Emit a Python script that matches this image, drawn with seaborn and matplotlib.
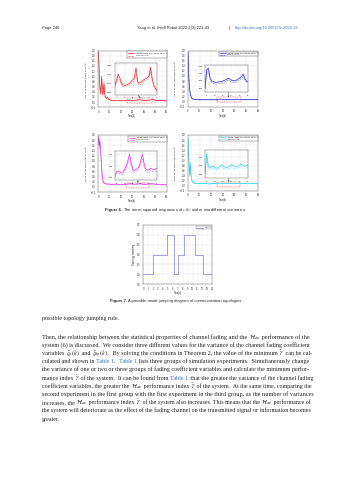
import re
import numpy as np
import matplotlib
matplotlib.use('Agg')
import matplotlib.pyplot as plt
from matplotlib.patches import Rectangle, ConnectionPatch
import seaborn as sns

sns.set_style('white')
plt.rcParams['font.family'] = ['Liberation Sans', 'DejaVu Sans']
plt.rcParams['mathtext.fontset'] = 'stix'

W, H = 353, 480

# ---- data for Figure 6 (norm-squared responses) ----
T = [0, 0.5, 1, 1.5, 2, 2.5, 3, 3.5, 4, 4.5, 5, 5.5, 6, 7, 8, 9, 10, 12, 14, 16, 18,
     20, 22, 24, 26, 28, 30, 32, 34, 36, 38, 40, 42, 44, 46, 48, 50, 52, 54, 56, 58, 60]

red_fading = [1.95, 1.60, 0.90, 0.55, 0.35, 0.60, 1.00, 0.55, 0.30, 0.45, 0.75, 0.40, 0.22, 0.15,
              0.20, 0.12, 0.09, 0.07, 0.06, 0.06, 0.07, 0.06, 0.06, 0.06, 0.07, 0.08, 0.07, 0.07,
              0.08, 0.10, 0.08, 0.07, 0.07, 0.08, 0.09, 0.12, 0.08, 0.06, 0.06, 0.06, 0.05, 0.05]
red_ideal = [1.90, 1.50, 0.80, 0.50, 0.30, 0.50, 0.90, 0.50, 0.26, 0.40, 0.65, 0.35, 0.20, 0.13,
             0.17, 0.10, 0.08, 0.06, 0.05, 0.05, 0.06, 0.05, 0.05, 0.05, 0.06, 0.07, 0.06, 0.06,
             0.07, 0.09, 0.07, 0.06, 0.06, 0.07, 0.08, 0.10, 0.07, 0.05, 0.05, 0.05, 0.04, 0.04]
blue_fading = [1.95, 1.20, 0.70, 0.45, 0.30, 0.20, 0.14, 0.12, 0.10, 0.09, 0.09, 0.08, 0.08, 0.08,
               0.07, 0.07, 0.07, 0.07, 0.07, 0.07, 0.07, 0.07, 0.07, 0.07, 0.08, 0.09, 0.08, 0.08,
               0.08, 0.08, 0.08, 0.08, 0.09, 0.08, 0.08, 0.08, 0.08, 0.08, 0.08, 0.08, 0.08, 0.08]
blue_ideal = [1.90, 1.10, 0.65, 0.40, 0.27, 0.18, 0.12, 0.10, 0.09, 0.08, 0.08, 0.07, 0.07, 0.07,
              0.06, 0.06, 0.06, 0.06, 0.06, 0.06, 0.06, 0.06, 0.06, 0.06, 0.07, 0.08, 0.07, 0.07,
              0.07, 0.07, 0.07, 0.07, 0.08, 0.07, 0.07, 0.07, 0.07, 0.07, 0.07, 0.07, 0.07, 0.07]
mag_fading = [1.70, 1.95, 1.60, 1.75, 1.40, 1.10, 0.70, 0.40, 0.25, 0.18, 0.15, 0.14, 0.13, 0.12,
              0.10, 0.12, 0.10, 0.09, 0.10, 0.11, 0.09, 0.10, 0.09, 0.10, 0.11, 0.12, 0.11, 0.10,
              0.11, 0.13, 0.11, 0.10, 0.10, 0.11, 0.12, 0.12, 0.10, 0.09, 0.09, 0.09, 0.08, 0.08]
mag_ideal = [1.60, 1.85, 1.50, 1.65, 1.30, 1.00, 0.62, 0.36, 0.22, 0.16, 0.13, 0.12, 0.11, 0.10,
             0.09, 0.10, 0.09, 0.08, 0.09, 0.10, 0.08, 0.09, 0.08, 0.09, 0.10, 0.10, 0.10, 0.09,
             0.10, 0.11, 0.10, 0.09, 0.09, 0.10, 0.10, 0.10, 0.09, 0.08, 0.08, 0.08, 0.07, 0.07]
cyan_fading = [1.85, 1.30, 0.80, 0.45, 0.90, 0.50, 0.25, 0.20, 0.18, 0.12, 0.14, 0.11, 0.10, 0.10,
               0.09, 0.09, 0.10, 0.09, 0.09, 0.09, 0.08, 0.09, 0.09, 0.09, 0.10, 0.11, 0.10, 0.10,
               0.10, 0.10, 0.09, 0.09, 0.10, 0.10, 0.10, 0.10, 0.09, 0.09, 0.09, 0.09, 0.09, 0.09]
cyan_ideal = [1.80, 1.20, 0.75, 0.40, 0.80, 0.45, 0.22, 0.18, 0.16, 0.11, 0.12, 0.10, 0.09, 0.09,
              0.08, 0.08, 0.09, 0.08, 0.08, 0.08, 0.07, 0.08, 0.08, 0.08, 0.09, 0.10, 0.09, 0.09,
              0.09, 0.09, 0.08, 0.08, 0.09, 0.09, 0.09, 0.09, 0.08, 0.08, 0.08, 0.08, 0.08, 0.08]

# zoomed windows of the insets
IT = [24, 25, 26, 27, 28, 29, 30, 31, 32, 33, 34, 35, 36, 37, 38, 39, 40, 41, 42, 43,
      44, 45, 46, 47, 48, 49, 50]
red_in1 = [0.070, 0.085, 0.100, 0.090, 0.075, 0.070, 0.068, 0.070, 0.072, 0.075, 0.080, 0.085,
           0.090, 0.118, 0.080, 0.075, 0.078, 0.082, 0.085, 0.088, 0.090, 0.095, 0.120, 0.090,
           0.070, 0.060, 0.055]
red_in2 = [0.065, 0.080, 0.092, 0.082, 0.070, 0.066, 0.064, 0.066, 0.068, 0.070, 0.074, 0.078,
           0.083, 0.100, 0.075, 0.070, 0.072, 0.076, 0.080, 0.083, 0.085, 0.090, 0.108, 0.085,
           0.066, 0.058, 0.052]
blue_in1 = [0.060, 0.110, 0.115, 0.090, 0.080, 0.078, 0.076, 0.076, 0.077, 0.078, 0.079, 0.080,
            0.082, 0.084, 0.087, 0.085, 0.082, 0.081, 0.080, 0.082, 0.085, 0.088, 0.092, 0.098,
            0.088, 0.080, 0.078]
blue_in2 = [0.058, 0.100, 0.108, 0.084, 0.075, 0.073, 0.071, 0.071, 0.072, 0.073, 0.074, 0.075,
            0.077, 0.080, 0.082, 0.080, 0.077, 0.076, 0.075, 0.077, 0.080, 0.083, 0.087, 0.090,
            0.083, 0.076, 0.074]
mag_in1 = [0.085, 0.090, 0.092, 0.090, 0.088, 0.090, 0.095, 0.100, 0.110, 0.120, 0.105, 0.095,
           0.092, 0.094, 0.096, 0.100, 0.110, 0.120, 0.105, 0.095, 0.093, 0.094, 0.096, 0.095,
           0.094, 0.095, 0.096]
mag_in2 = [0.082, 0.087, 0.089, 0.087, 0.085, 0.087, 0.091, 0.096, 0.104, 0.113, 0.100, 0.091,
           0.089, 0.090, 0.092, 0.096, 0.104, 0.112, 0.100, 0.091, 0.089, 0.090, 0.092, 0.091,
           0.090, 0.091, 0.092]
cyan_in1 = [0.080, 0.130, 0.100, 0.095, 0.098, 0.100, 0.096, 0.094, 0.096, 0.099, 0.102, 0.100,
            0.097, 0.095, 0.097, 0.100, 0.103, 0.100, 0.098, 0.097, 0.099, 0.102, 0.104, 0.101,
            0.099, 0.100, 0.101]
cyan_in2 = [0.078, 0.120, 0.094, 0.090, 0.093, 0.095, 0.091, 0.089, 0.091, 0.094, 0.097, 0.095,
            0.092, 0.090, 0.092, 0.095, 0.098, 0.095, 0.093, 0.092, 0.094, 0.097, 0.099, 0.096,
            0.094, 0.095, 0.096]

legend_labels = ['fading channel with probability $\\alpha$', 'ideal channel']

# ---- data for Figure 7 (mode jumping) ----
switch_times = [0, 2, 4.9, 6.3, 7.1, 8.3, 10.5, 12.2, 13.5, 14]
modes = [1, 2, 3, 1, 2, 3, 2, 1, 1, 1]

# ---- body text ----
header_left = 'Page 240'
header_mid = 'Yang et al. Intell Robot 2022;2(3):223-43'
header_link = 'http://dx.doi.org/10.20517/ir.2022.19'
cap6 = ('Figure 6.', ' The norm-squared responses of $z_i(k)$ under two different scenarios.')
cap7 = ('Figure 7.', ' A possible mode jumping diagram of communication topologies.')
HINF = '$\\mathcal{H}_\\infty$'
GAM = '$\\bar{\\gamma}$'
body_first = 'possible topology jumping rule.'
# [..] marks a blue cross-reference
body_lines = [
    'Then, the relationship between the statistical properties of channel fading and the ' + HINF + ' performance of the',
    'system (6) is discussed.  We consider three different values for the variance of the channel fading coefficient',
    'variables $\\xi_p(k)$ and $\\xi_{\\theta{p}}(k)$.  By solving the conditions in Theorem 2, the value of the minimum ' + GAM + ' can be cal-',
    'culated and shown in [Table 1].  [Table 1] lists three groups of simulation experiments.  Simultaneously change',
    'the variance of one or two or three groups of fading coefficient variables and calculate the minimum perfor-',
    'mance index ' + GAM + ' of the system.  It can be found from [Table 1] that the greater the variance of the channel fading',
    'coefficient variables, the greater the ' + HINF + ' performance index ' + GAM + ' of the system.  At the same time, comparing the',
    'second experiment in the first group with the first experiment in the third group, as the number of variances',
    'increases, the ' + HINF + ' performance index ' + GAM + ' of the system also increases. This means that the ' + HINF + ' performance of',
    'the system will deteriorate as the effect of the fading channel on the transmitted signal or information becomes',
    'greater.',
]


def box(x0, y0, x1, y1):
    # pixel box (top-left origin) -> figure fraction rect
    return [x0 / W, 1 - y1 / H, (x1 - x0) / W, (y1 - y0) / H]


fig = plt.figure(figsize=(W / 100, H / 100), dpi=100)
fig.patch.set_facecolor('white')


def style_ax(ax, fs=1.8):
    ax.tick_params(labelsize=fs, length=1, width=0.3, pad=0.8)
    for s in ax.spines.values():
        s.set_linewidth(0.3)
        s.set_color('#555555')
    ax.grid(True, color='#dddddd', lw=0.25)


def panel(rect, inrect, legrect, color, y1, y2, iy1, iy2, rect_t):
    ax = fig.add_axes(box(*rect))
    sns.lineplot(x=T, y=y1, ax=ax, color=color, lw=0.5)
    sns.lineplot(x=T, y=y2, ax=ax, color=color, lw=0.4, linestyle='--', alpha=0.7)
    ax.set_xlim(0, 60)
    ax.set_ylim(-0.2, 2.0)
    ax.set_xticks(np.arange(0, 61, 10))
    ax.set_yticks(np.round(np.arange(-0.2, 2.01, 0.2), 1))
    style_ax(ax)
    ax.set_xlabel('Time(k)', fontsize=1.8, labelpad=0.5)
    ax.set_ylabel('The norm-squared response of $z_i(k)$', fontsize=1.6, labelpad=0.8)
    r = Rectangle((rect_t[0], -0.04), rect_t[1] - rect_t[0], 0.2, fill=False,
                  ec='#e03030', lw=0.35, ls=(0, (2, 1.5)))
    ax.add_patch(r)
    # legend
    lax = fig.add_axes(box(*legrect))
    lax.set_xticks([])
    lax.set_yticks([])
    for s in lax.spines.values():
        s.set_linewidth(0.3)
        s.set_color('#555555')
    lax.plot([0.03, 0.18], [0.7, 0.7], color=color, lw=0.5)
    lax.plot([0.03, 0.18], [0.3, 0.3], color=color, lw=0.4, ls='--')
    lax.set_xlim(0, 1)
    lax.set_ylim(0, 1)
    lax.text(0.21, 0.7, legend_labels[0], fontsize=1.5, va='center')
    lax.text(0.21, 0.3, legend_labels[1], fontsize=1.5, va='center')
    # inset
    iax = fig.add_axes(box(*inrect))
    sns.lineplot(x=IT, y=iy1, ax=iax, color=color, lw=0.5)
    sns.lineplot(x=IT, y=iy2, ax=iax, color=color, lw=0.4, linestyle='--', alpha=0.7)
    lo, hi = min(iy2), max(iy1)
    pad = (hi - lo) * 0.15
    iax.set_xlim(IT[0], IT[-1])
    iax.set_ylim(lo - pad, hi + pad)
    iax.set_xticks([25, 30, 35, 40, 45, 50])
    iax.locator_params(axis='y', nbins=4)
    style_ax(iax, 1.5)
    con = ConnectionPatch(xyA=(0.5 * (rect_t[0] + rect_t[1]), 0.16), coordsA=ax.transData,
                          xyB=(0.55, 0.0), coordsB=iax.transAxes,
                          arrowstyle='<-', lw=0.3, color='#333333', mutation_scale=2)
    fig.add_artist(con)
    return ax


panel((98.3, 50.5, 166.7, 107.3), (115, 63.5, 157, 95), (127.3, 51.2, 166.5, 57.5),
      '#e8232f', red_fading, red_ideal, red_in1, red_in2, (25, 48))
panel((188, 50.5, 258, 106.5), (205, 65, 248, 92), (219, 51.5, 257.8, 56),
      '#2b2bd8', blue_fading, blue_ideal, blue_in1, blue_in2, (24.5, 45))
panel((98.3, 135, 166.7, 192), (115, 151, 157, 180), (128.3, 135.7, 166.5, 141.7),
      '#e22ee2', mag_fading, mag_ideal, mag_in1, mag_in2, (24.5, 44.5))
panel((188, 135, 258, 191), (205, 150, 248, 178.3), (219, 135.7, 257.8, 140.7),
      '#2fd3e3', cyan_fading, cyan_ideal, cyan_in1, cyan_in2, (25, 44.5))

# ---- Figure 7 ----
ax7 = fig.add_axes(box(143.3, 225, 212.3, 284))
ax7.step(switch_times, modes, where='post', color='#8080d8', lw=0.5, label='mode')
ax7.set_xlim(0, 14)
ax7.set_ylim(0.5, 3.5)
ax7.set_xticks(range(0, 15))
ax7.set_yticks([0.5, 1, 1.5, 2, 2.5, 3, 3.5])
style_ax(ax7)
ax7.set_xlabel('Time(s)', fontsize=1.8, labelpad=0.5)
ax7.set_ylabel('Topology switching', fontsize=1.8, labelpad=0.8)
leg = ax7.legend(fontsize=1.6, loc='upper right', handlelength=3, borderpad=0.3,
                 frameon=True, fancybox=False, edgecolor='#555555')
leg.get_frame().set_linewidth(0.3)

# ---- page text ----
fig.text(42 / W, 1 - 28 / H, header_left, fontsize=2.9, va='center', color='#222222')
fig.text(137 / W, 1 - 28 / H, header_mid, fontsize=2.9, va='center', color='#222222')
fig.text(229 / W, 1 - 28 / H, '|', fontsize=2.9, va='center', color='#222222')
fig.text(235 / W, 1 - 28 / H, header_link, fontsize=2.9, va='center', color='#3a6fc4')

rend = fig.canvas.get_renderer()


def caption(y, parts):
    a = fig.text(0, 1 - y / H, parts[0], fontsize=3.0, weight='bold', va='center')
    b = fig.text(0, 1 - y / H, parts[1], fontsize=3.0, va='center')
    wa = a.get_window_extent(rend).width
    wb = b.get_window_extent(rend).width
    x0 = 176.5 - (wa + wb) / 2
    a.set_x(x0 / W)
    b.set_x((x0 + wa) / W)


caption(210, cap6)
caption(301, cap7)

serif = ['Liberation Serif', 'DejaVu Serif']
fs_body = 4.35
fig.text(42 / W, 1 - 320.3 / H, body_first, fontsize=fs_body, family=serif, va='baseline')


def seg_width(s, fs):
    t = fig.text(0, 0, 'X' + s + 'X', fontsize=fs, family=serif)
    t2 = fig.text(0, 0, 'XX', fontsize=fs, family=serif)
    w = t.get_window_extent(rend).width - t2.get_window_extent(rend).width
    t.remove()
    t2.remove()
    return w


def body_line(line, y, x0=42, x1=311, last=False):
    # split into plain runs, maths runs and blue cross-references
    parts = [p for p in re.split(r'(\[[^\]]*\]|\$[^$]*\$)', line) if p]
    segs = []
    for p in parts:
        if p.startswith('['):
            segs.append((p[1:-1], '#3a6fc4'))
        else:
            segs.append((p, '#222222'))
    fs = fs_body
    if not last:
        natural = sum(seg_width(s, fs_body) for s, _ in segs)
        fs = fs_body * min(max((x1 - x0) / natural, 0.85), 1.15)
    x = x0
    for s, col in segs:
        fig.text(x / W, 1 - y / H, s, fontsize=fs, family=serif, va='baseline', color=col)
        x += seg_width(s, fs)


y = 338.7
for i, line in enumerate(body_lines):
    body_line(line, y, last=(i == len(body_lines) - 1))
    y += 8.2

fig.savefig('out.png', dpi=100, facecolor='white')
